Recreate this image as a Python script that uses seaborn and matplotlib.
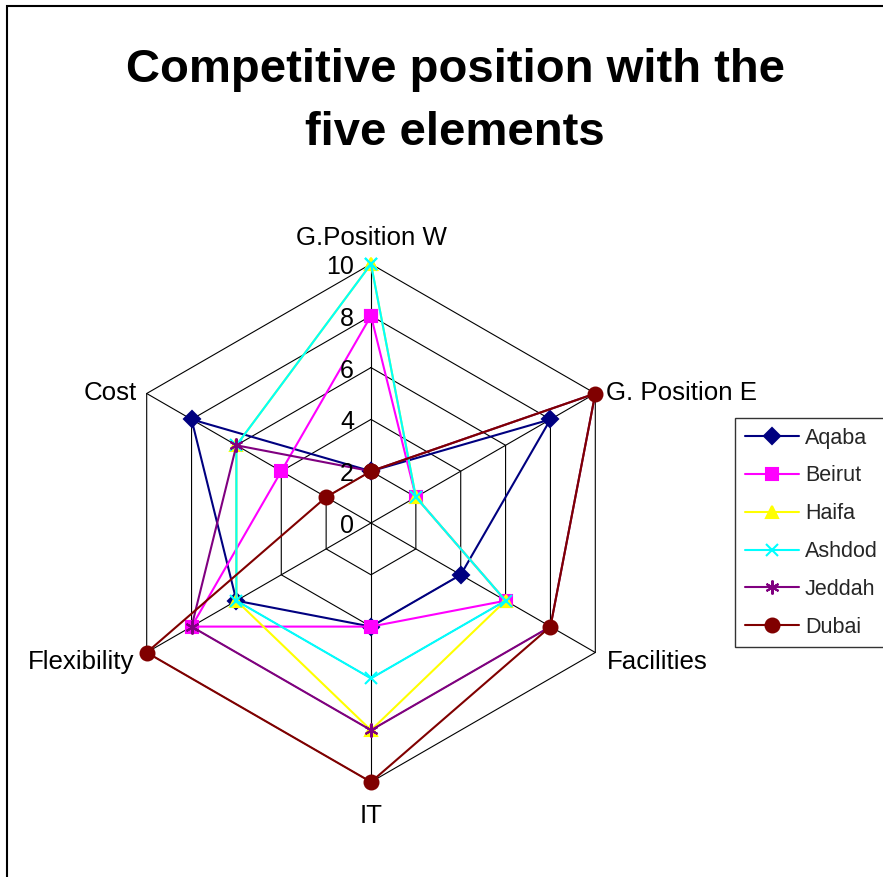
import numpy as np
import pandas as pd
import matplotlib
matplotlib.use("Agg")
import matplotlib.pyplot as plt
import matplotlib.transforms as mtransforms
from matplotlib.lines import Line2D
from matplotlib.patches import Rectangle
import seaborn as sns

categories = ["G.Position W", "G. Position E", "Facilities", "IT", "Flexibility", "Cost"]
ports = ["Aqaba", "Beirut", "Haifa", "Ashdod", "Jeddah", "Dubai"]
aqaba = [2, 8, 4, 4, 6, 8]
beirut = [8, 2, 6, 4, 8, 4]
haifa = [10, 2, 6, 8, 6, 6]
ashdod = [10, 2, 6, 6, 6, 6]
jeddah = [2, 10, 8, 8, 8, 6]
dubai = [2, 10, 8, 10, 10, 2]
radial_ticks = [0, 2, 4, 6, 8, 10]

colors = {"Aqaba": "#000080", "Beirut": "#FF00FF", "Haifa": "#FFFF00",
          "Ashdod": "#00FFFF", "Jeddah": "#800080", "Dubai": "#800000"}
markers = {"Aqaba": "D", "Beirut": "s", "Haifa": "^",
           "Ashdod": "x", "Jeddah": (6, 2, 0), "Dubai": "o"}
msizes = {"Aqaba": 8, "Beirut": 9, "Haifa": 9, "Ashdod": 9, "Jeddah": 10, "Dubai": 10}

sns.set_theme(style="white")
plt.rcParams["font.family"] = ["Liberation Sans", "DejaVu Sans"]

n = len(categories)
angles = [2 * np.pi * i / n for i in range(n)]
angles_closed = angles + [2 * np.pi]

series = {"Aqaba": aqaba, "Beirut": beirut, "Haifa": haifa,
          "Ashdod": ashdod, "Jeddah": jeddah, "Dubai": dubai}
rows = []
for p in ports:
    vals = series[p] + [series[p][0]]
    for k, (a, v) in enumerate(zip(angles_closed, vals)):
        rows.append({"port": p, "theta": a, "value": v, "order": k})
df = pd.DataFrame(rows)

fig = plt.figure(figsize=(8.83, 8.77), dpi=100)
cx, cy, R = 371 / 883, 1 - 523 / 877, 259
ax = fig.add_axes([cx - R / 883, cy - R / 877, 2 * R / 883, 2 * R / 877], projection="polar")
ax.set_theta_offset(np.pi / 2)
ax.set_theta_direction(-1)
ax.set_ylim(0, 10)
ax.grid(False)
ax.spines["polar"].set_visible(False)
ax.set_xticks([])
ax.set_yticks([])
ax.patch.set_visible(False)

# grid hexagons and spokes
for r in radial_ticks[1:]:
    ax.plot(angles_closed, [r] * len(angles_closed), color="black", lw=0.8, zorder=1, clip_on=False)
for a in angles:
    ax.plot([a, a], [0, 10], color="black", lw=0.8, zorder=1, clip_on=False)

for p in ports:
    sub = df[df["port"] == p]
    sns.lineplot(data=sub, x="theta", y="value", sort=False, estimator=None,
                 color=colors[p], marker=markers[p], markersize=msizes[p],
                 markeredgecolor=colors[p], markerfacecolor=colors[p],
                 markeredgewidth=1.5, lw=1.5, ax=ax, zorder=3, clip_on=False,
                 legend=False)
ax.set_xlabel("")
ax.set_ylabel("")
ax.set_xticks([])
ax.set_yticks([])

# radial tick labels
off = mtransforms.offset_copy(ax.transData, fig=fig, x=-17, y=-3, units="dots")
for r in radial_ticks:
    ax.text(0, r, str(r), transform=off, ha="right", va="center", fontsize=18, color="black")

# category labels
lab_fs = 18.6
label_specs = [
    (0, 10, 0, 14, "center", "bottom"),
    (1, 10, 11, 0, "left", "center"),
    (2, 10, 12, -10, "left", "center"),
    (3, 10, 0, -22, "center", "top"),
    (4, 10, -12, -10, "right", "center"),
    (5, 10, -10, 0, "right", "center"),
]
for i, r, dx, dy, ha, va in label_specs:
    tr = mtransforms.offset_copy(ax.transData, fig=fig, x=dx, y=dy, units="dots")
    ax.text(angles[i], r, categories[i], transform=tr, ha=ha, va=va, fontsize=lab_fs, color="black")

# title
fig.text(455 / 883, 1 - 82 / 877, "Competitive position with the", ha="center", va="baseline",
         fontsize=34, fontweight="bold", color="black")
fig.text(455 / 883, 1 - 145 / 877, "five elements", ha="center", va="baseline",
         fontsize=34, fontweight="bold", color="black")

# legend
handles = [Line2D([0], [0], color=colors[p], marker=markers[p], markersize=msizes[p],
                  markeredgecolor=colors[p], markerfacecolor=colors[p], markeredgewidth=1.5, lw=1.5)
           for p in ports]
leg = fig.legend(handles, ports, loc="upper left", bbox_to_anchor=(735 / 883, 1 - 418 / 877),
                 frameon=True, fancybox=False, edgecolor="black", fontsize=15.5,
                 handlelength=2.5, handletextpad=0.3, labelspacing=0.78, borderpad=0.45,
                 borderaxespad=0)
leg.get_frame().set_linewidth(1.0)

# figure border
fig.patches.append(Rectangle((6.5 / 883, -0.1), 1.2, 1 - 5.5 / 877 + 0.1, transform=fig.transFigure,
                             fill=False, edgecolor="black", lw=1.5))

fig.savefig("out.png", dpi=100, facecolor="white")
